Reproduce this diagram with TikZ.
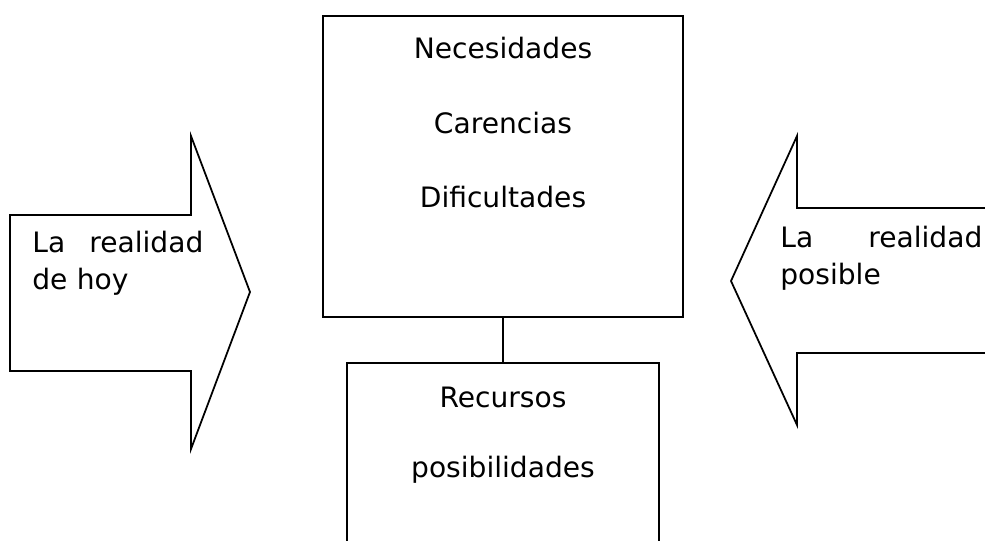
\documentclass[tikz,border=0pt]{standalone}
\usepackage{fontspec}
\setmainfont{DejaVu Sans}
\begin{document}
\begin{tikzpicture}[
  x=0.02cm, y=-0.02cm,
  box/.style={rectangle, draw, line width=1pt, inner sep=0pt},
  word/.style={font=\fontsize{16}{21.5}\selectfont, inner sep=0pt},
  side/.style={word, anchor=base west, align=left},
  outline/.style={draw, line width=1pt, line join=miter}
]
  \useasboundingbox (0,0) rectangle (985,541);

  \node[box, minimum width=7.2cm, minimum height=6.02cm] (top) at (503,166.5) {};
  \node[box, minimum width=6.24cm, minimum height=4.74cm] (bot) at (503,481.5) {};
  \draw[line width=1pt] (top.south) -- (bot.north);

  \node[word] (nec) at (503,48) {Necesidades};
  \node[word] (car) at (503,123) {Carencias};
  \node[word] (dif) at (503,197) {Dificultades};
  \node[word] (rec) at (503,397) {Recursos};
  \node[word] (pos) at (503,470) {posibilidades};

  % left arrow
  \draw[outline] (10,215) -- (191,215) -- (191,136) -- (250,292)
    -- (191,449) -- (191,371) -- (10,371) -- cycle;
  \node[side, text width=3.42cm] (hoy) at (32,252) {La\hfill realidad\\de hoy};

  % right arrow
  \draw[outline] (1000,208) -- (797,208) -- (797,136) -- (731,281)
    -- (797,425) -- (797,353) -- (1000,353);
  \node[side, text width=4.04cm] (posible) at (780,247) {La\hfill realidad\\posible};
\end{tikzpicture}
\end{document}
